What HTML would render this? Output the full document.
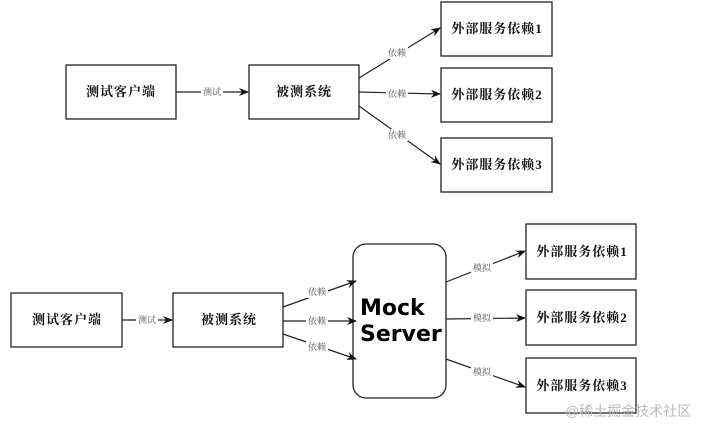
<!DOCTYPE html>
<html><head><meta charset="utf-8"><style>
html,body{margin:0;padding:0;background:#fff;width:706px;height:432px;overflow:hidden}
svg{display:block}
.b{font-family:"Liberation Serif","Noto Serif CJK SC",serif;font-weight:bold;font-size:13px;letter-spacing:1px;fill:#111}
.l{font-family:"Liberation Serif","Noto Serif CJK SC",serif;font-size:9px;fill:#555}
</style></head><body>
<svg width="706" height="432" viewBox="0 0 706 432" xmlns="http://www.w3.org/2000/svg">
<defs><marker id="a" markerWidth="10" markerHeight="8" refX="9" refY="4" orient="auto" markerUnits="userSpaceOnUse"><path d="M0,0 L10,4 L0,8 L3,4 z" fill="#111"/></marker></defs>
<g fill="#fff" stroke="#222" stroke-width="1.3">
<rect x="66" y="65" width="110" height="54"/>
<rect x="249" y="65" width="110" height="54"/>
<rect x="441" y="2" width="111" height="54"/>
<rect x="441" y="68" width="111" height="54"/>
<rect x="441" y="138" width="111" height="54"/>
<rect x="11" y="293" width="111" height="54"/>
<rect x="173" y="293" width="110" height="54"/>
<rect x="353" y="244" width="93" height="154" rx="13"/>
<rect x="526" y="224" width="110" height="55"/>
<rect x="526" y="290" width="110" height="55"/>
<rect x="526" y="358" width="110" height="55"/>
</g>
<g stroke="#222" stroke-width="1.2" marker-end="url(#a)" fill="none">
<line x1="176" y1="92" x2="248" y2="92"/>
<line x1="359" y1="78" x2="440" y2="28"/>
<line x1="359" y1="92" x2="440" y2="94"/>
<line x1="359" y1="106" x2="440" y2="164"/>
<line x1="122" y1="320" x2="172" y2="320"/>
<line x1="283" y1="307" x2="356" y2="281"/>
<line x1="283" y1="321" x2="356" y2="321"/>
<line x1="283" y1="334" x2="356" y2="359"/>
<line x1="446" y1="282" x2="525" y2="251"/>
<line x1="446" y1="319" x2="525" y2="318"/>
<line x1="446" y1="359" x2="525" y2="387"/>
</g>
<g fill="#fff">
<rect x="201" y="86" width="22" height="12"/>
<rect x="386" y="47" width="22" height="12"/>
<rect x="386" y="88" width="22" height="12"/>
<rect x="386" y="129" width="22" height="12"/>
<rect x="136" y="314" width="22" height="12"/>
<rect x="306" y="286" width="22" height="12"/>
<rect x="306" y="315" width="22" height="12"/>
<rect x="306" y="341" width="22" height="12"/>
<rect x="471" y="262" width="22" height="12"/>
<rect x="471" y="312" width="22" height="12"/>
<rect x="471" y="366" width="22" height="12"/>
</g>
<g class="l" text-anchor="middle">
<text x="212" y="95">测试</text>
<text x="397" y="56">依赖</text>
<text x="397" y="97">依赖</text>
<text x="397" y="138">依赖</text>
<text x="147" y="323">测试</text>
<text x="317" y="295">依赖</text>
<text x="317" y="324">依赖</text>
<text x="317" y="350">依赖</text>
<text x="482" y="271">模拟</text>
<text x="482" y="321">模拟</text>
<text x="482" y="375">模拟</text>
</g>
<g class="b" text-anchor="middle">
<text x="121" y="96">测试客户端</text>
<text x="304" y="96">被测系统</text>
<text x="497" y="33">外部服务依赖1</text>
<text x="497" y="99">外部服务依赖2</text>
<text x="497" y="169">外部服务依赖3</text>
<text x="67" y="324">测试客户端</text>
<text x="229" y="324">被测系统</text>
<text x="582" y="256">外部服务依赖1</text>
<text x="582" y="322">外部服务依赖2</text>
<text x="582" y="390">外部服务依赖3</text>
</g>
<g font-family="'DejaVu Sans',sans-serif" font-weight="bold" font-size="22" fill="#000">
<text x="360" y="315">Mock</text>
<text x="360" y="341">Server</text>
</g>
<text x="565" y="416" font-family="'Liberation Sans','Noto Sans CJK SC',sans-serif" font-size="14" fill="#bbb">@稀土掘金技术社区</text>
</svg>
</body></html>
